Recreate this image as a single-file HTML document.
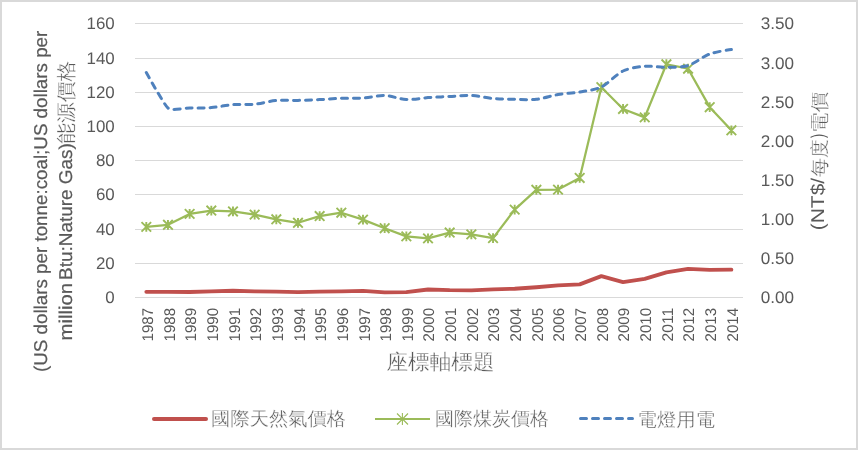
<!DOCTYPE html><html><head><meta charset="utf-8"><style>html,body{margin:0;padding:0;background:#fff;overflow:hidden;}svg{display:block;will-change:transform;}text{font-family:"Liberation Sans",sans-serif;fill:#595959;text-rendering:geometricPrecision;}</style></head><body>
<svg width="858" height="450" viewBox="0 0 858 450">
<rect x="0" y="0" width="858" height="450" fill="#d9d9d9"/>
<rect x="2" y="2" width="854" height="446" fill="#fff"/>
<rect x="135" y="23" width="608" height="1" fill="#d9d9d9"/>
<rect x="135" y="58" width="608" height="1" fill="#d9d9d9"/>
<rect x="135" y="92" width="608" height="1" fill="#d9d9d9"/>
<rect x="135" y="126" width="608" height="1" fill="#d9d9d9"/>
<rect x="135" y="160" width="608" height="1" fill="#d9d9d9"/>
<rect x="135" y="194" width="608" height="1" fill="#d9d9d9"/>
<rect x="135" y="229" width="608" height="1" fill="#d9d9d9"/>
<rect x="135" y="263" width="608" height="1" fill="#d9d9d9"/>
<rect x="135" y="297" width="608" height="1" fill="#d9d9d9"/>
<text x="114.7" y="28.7" font-size="16.9" text-anchor="end">160</text>
<text x="114.7" y="63.7" font-size="16.9" text-anchor="end">140</text>
<text x="114.7" y="97.7" font-size="16.9" text-anchor="end">120</text>
<text x="114.7" y="131.7" font-size="16.9" text-anchor="end">100</text>
<text x="114.7" y="165.7" font-size="16.9" text-anchor="end">80</text>
<text x="114.7" y="199.7" font-size="16.9" text-anchor="end">60</text>
<text x="114.7" y="234.7" font-size="16.9" text-anchor="end">40</text>
<text x="114.7" y="268.7" font-size="16.9" text-anchor="end">20</text>
<text x="114.7" y="302.7" font-size="16.9" text-anchor="end">0</text>
<text x="760.7" y="29.4" font-size="16.9" textLength="33.3" lengthAdjust="spacingAndGlyphs">3.50</text>
<text x="760.7" y="68.5" font-size="16.9" textLength="33.3" lengthAdjust="spacingAndGlyphs">3.00</text>
<text x="760.7" y="107.7" font-size="16.9" textLength="33.3" lengthAdjust="spacingAndGlyphs">2.50</text>
<text x="760.7" y="146.8" font-size="16.9" textLength="33.3" lengthAdjust="spacingAndGlyphs">2.00</text>
<text x="760.7" y="186.0" font-size="16.9" textLength="33.3" lengthAdjust="spacingAndGlyphs">1.50</text>
<text x="760.7" y="225.1" font-size="16.9" textLength="33.3" lengthAdjust="spacingAndGlyphs">1.00</text>
<text x="760.7" y="264.3" font-size="16.9" textLength="33.3" lengthAdjust="spacingAndGlyphs">0.50</text>
<text x="760.7" y="303.4" font-size="16.9" textLength="33.3" lengthAdjust="spacingAndGlyphs">0.00</text>
<text transform="translate(153.00,307.9) rotate(-90)" font-size="15.5" text-anchor="end" textLength="33.5" lengthAdjust="spacingAndGlyphs">1987</text>
<text transform="translate(174.65,307.9) rotate(-90)" font-size="15.5" text-anchor="end" textLength="33.5" lengthAdjust="spacingAndGlyphs">1988</text>
<text transform="translate(196.30,307.9) rotate(-90)" font-size="15.5" text-anchor="end" textLength="33.5" lengthAdjust="spacingAndGlyphs">1989</text>
<text transform="translate(217.95,307.9) rotate(-90)" font-size="15.5" text-anchor="end" textLength="33.5" lengthAdjust="spacingAndGlyphs">1990</text>
<text transform="translate(239.60,307.9) rotate(-90)" font-size="15.5" text-anchor="end" textLength="33.5" lengthAdjust="spacingAndGlyphs">1991</text>
<text transform="translate(261.25,307.9) rotate(-90)" font-size="15.5" text-anchor="end" textLength="33.5" lengthAdjust="spacingAndGlyphs">1992</text>
<text transform="translate(282.90,307.9) rotate(-90)" font-size="15.5" text-anchor="end" textLength="33.5" lengthAdjust="spacingAndGlyphs">1993</text>
<text transform="translate(304.55,307.9) rotate(-90)" font-size="15.5" text-anchor="end" textLength="33.5" lengthAdjust="spacingAndGlyphs">1994</text>
<text transform="translate(326.20,307.9) rotate(-90)" font-size="15.5" text-anchor="end" textLength="33.5" lengthAdjust="spacingAndGlyphs">1995</text>
<text transform="translate(347.85,307.9) rotate(-90)" font-size="15.5" text-anchor="end" textLength="33.5" lengthAdjust="spacingAndGlyphs">1996</text>
<text transform="translate(369.50,307.9) rotate(-90)" font-size="15.5" text-anchor="end" textLength="33.5" lengthAdjust="spacingAndGlyphs">1997</text>
<text transform="translate(391.15,307.9) rotate(-90)" font-size="15.5" text-anchor="end" textLength="33.5" lengthAdjust="spacingAndGlyphs">1998</text>
<text transform="translate(412.80,307.9) rotate(-90)" font-size="15.5" text-anchor="end" textLength="33.5" lengthAdjust="spacingAndGlyphs">1999</text>
<text transform="translate(434.45,307.9) rotate(-90)" font-size="15.5" text-anchor="end" textLength="33.5" lengthAdjust="spacingAndGlyphs">2000</text>
<text transform="translate(456.10,307.9) rotate(-90)" font-size="15.5" text-anchor="end" textLength="33.5" lengthAdjust="spacingAndGlyphs">2001</text>
<text transform="translate(477.75,307.9) rotate(-90)" font-size="15.5" text-anchor="end" textLength="33.5" lengthAdjust="spacingAndGlyphs">2002</text>
<text transform="translate(499.40,307.9) rotate(-90)" font-size="15.5" text-anchor="end" textLength="33.5" lengthAdjust="spacingAndGlyphs">2003</text>
<text transform="translate(521.05,307.9) rotate(-90)" font-size="15.5" text-anchor="end" textLength="33.5" lengthAdjust="spacingAndGlyphs">2004</text>
<text transform="translate(542.70,307.9) rotate(-90)" font-size="15.5" text-anchor="end" textLength="33.5" lengthAdjust="spacingAndGlyphs">2005</text>
<text transform="translate(564.35,307.9) rotate(-90)" font-size="15.5" text-anchor="end" textLength="33.5" lengthAdjust="spacingAndGlyphs">2006</text>
<text transform="translate(586.00,307.9) rotate(-90)" font-size="15.5" text-anchor="end" textLength="33.5" lengthAdjust="spacingAndGlyphs">2007</text>
<text transform="translate(607.65,307.9) rotate(-90)" font-size="15.5" text-anchor="end" textLength="33.5" lengthAdjust="spacingAndGlyphs">2008</text>
<text transform="translate(629.30,307.9) rotate(-90)" font-size="15.5" text-anchor="end" textLength="33.5" lengthAdjust="spacingAndGlyphs">2009</text>
<text transform="translate(650.95,307.9) rotate(-90)" font-size="15.5" text-anchor="end" textLength="33.5" lengthAdjust="spacingAndGlyphs">2010</text>
<text transform="translate(672.60,307.9) rotate(-90)" font-size="15.5" text-anchor="end" textLength="33.5" lengthAdjust="spacingAndGlyphs">2011</text>
<text transform="translate(694.25,307.9) rotate(-90)" font-size="15.5" text-anchor="end" textLength="33.5" lengthAdjust="spacingAndGlyphs">2012</text>
<text transform="translate(715.90,307.9) rotate(-90)" font-size="15.5" text-anchor="end" textLength="33.5" lengthAdjust="spacingAndGlyphs">2013</text>
<text transform="translate(737.55,307.9) rotate(-90)" font-size="15.5" text-anchor="end" textLength="33.5" lengthAdjust="spacingAndGlyphs">2014</text>
<text transform="translate(47.00,372.00) rotate(-90)" font-size="18.5" fill="#595959" stroke="#595959" stroke-width="0.2" textLength="341.30" lengthAdjust="spacingAndGlyphs">(US dollars per tonne:coal;US dollars per</text>
<text transform="translate(71.60,340.50) rotate(-90)" font-size="18.5" fill="#595959" stroke="#595959" stroke-width="0.2" textLength="57.60" lengthAdjust="spacingAndGlyphs">million</text>
<text transform="translate(72.00,280.00) rotate(-90)" font-size="18.5" fill="#595959" stroke="#595959" stroke-width="0.2" textLength="136.90" lengthAdjust="spacingAndGlyphs">Btu:Nature Gas)</text>
<text transform="translate(73.00,143.70) rotate(-90)" font-size="20" fill="#595959" stroke="#fff" stroke-width="0.35" textLength="83.10" lengthAdjust="spacingAndGlyphs">能源價格</text>
<text transform="translate(823.84,230.30) rotate(-90)" font-size="18.5" fill="#595959"  textLength="52.50" lengthAdjust="spacingAndGlyphs">(NT$/</text>
<text transform="translate(825.52,176.70) rotate(-90)" font-size="19" fill="#595959" stroke="#fff" stroke-width="0.35" textLength="37.50" lengthAdjust="spacingAndGlyphs">每度</text>
<text transform="translate(823.84,138.00) rotate(-90)" font-size="18.5" fill="#595959"  textLength="4.20" lengthAdjust="spacingAndGlyphs">)</text>
<text transform="translate(825.52,132.70) rotate(-90)" font-size="19" fill="#595959" stroke="#fff" stroke-width="0.35" textLength="40.70" lengthAdjust="spacingAndGlyphs">電價</text>
<text x="386.50" y="368.70" font-size="21" fill="#595959" stroke="#fff" stroke-width="0.35" textLength="108.10" lengthAdjust="spacingAndGlyphs">座標軸標題</text>
<text x="211.10" y="424.92" font-size="19" fill="#595959" stroke="#fff" stroke-width="0.35" textLength="135.00" lengthAdjust="spacingAndGlyphs">國際天然氣價格</text>
<text x="434.90" y="424.92" font-size="19" fill="#595959" stroke="#fff" stroke-width="0.35" textLength="114.00" lengthAdjust="spacingAndGlyphs">國際煤炭價格</text>
<text x="637.60" y="425.80" font-size="19" fill="#595959" stroke="#fff" stroke-width="0.35" textLength="77.40" lengthAdjust="spacingAndGlyphs">電燈用電</text>
<path d="M146.30,291.86 L167.97,291.88 L189.64,291.98 L211.31,291.36 L232.98,290.76 L254.65,291.40 L276.32,291.57 L297.99,292.15 L319.66,291.67 L341.33,291.33 L363.00,290.90 L384.67,292.37 L406.34,292.22 L428.01,289.51 L449.68,290.15 L471.35,290.28 L493.02,289.43 L514.69,288.73 L536.36,287.24 L558.03,285.37 L579.70,284.36 L601.37,276.10 L623.04,282.08 L644.71,278.91 L666.38,272.37 L688.05,268.91 L709.72,269.90 L731.39,269.62" fill="none" stroke="#c0504d" stroke-width="3.8" stroke-linejoin="round" stroke-linecap="round"/>
<path d="M146.30,226.88 L167.97,224.84 L189.64,213.90 L211.31,210.56 L232.98,211.43 L254.65,214.60 L276.32,219.29 L297.99,222.80 L319.66,216.09 L341.33,212.73 L363.00,219.60 L384.67,228.20 L406.34,236.37 L428.01,238.36 L449.68,232.57 L471.35,234.39 L493.02,238.09 L514.69,209.65 L536.36,189.83 L558.03,189.60 L579.70,177.92 L601.37,87.21 L623.04,108.97 L644.71,117.40 L666.38,64.26 L688.05,68.71 L709.72,107.17 L731.39,130.31" fill="none" stroke="#9bbb59" stroke-width="2.25" stroke-linejoin="round" stroke-linecap="round"/>
<path d="M146.30,221.98 V231.78 M141.50,222.08 L151.10,231.68 M151.10,222.08 L141.50,231.68 M167.97,219.94 V229.74 M163.17,220.04 L172.77,229.64 M172.77,220.04 L163.17,229.64 M189.64,209.00 V218.80 M184.84,209.10 L194.44,218.70 M194.44,209.10 L184.84,218.70 M211.31,205.66 V215.46 M206.51,205.76 L216.11,215.36 M216.11,205.76 L206.51,215.36 M232.98,206.53 V216.33 M228.18,206.63 L237.78,216.23 M237.78,206.63 L228.18,216.23 M254.65,209.70 V219.50 M249.85,209.80 L259.45,219.40 M259.45,209.80 L249.85,219.40 M276.32,214.39 V224.19 M271.52,214.49 L281.12,224.09 M281.12,214.49 L271.52,224.09 M297.99,217.90 V227.70 M293.19,218.00 L302.79,227.60 M302.79,218.00 L293.19,227.60 M319.66,211.19 V220.99 M314.86,211.29 L324.46,220.89 M324.46,211.29 L314.86,220.89 M341.33,207.83 V217.63 M336.53,207.93 L346.13,217.53 M346.13,207.93 L336.53,217.53 M363.00,214.70 V224.50 M358.20,214.80 L367.80,224.40 M367.80,214.80 L358.20,224.40 M384.67,223.30 V233.10 M379.87,223.40 L389.47,233.00 M389.47,223.40 L379.87,233.00 M406.34,231.47 V241.27 M401.54,231.57 L411.14,241.17 M411.14,231.57 L401.54,241.17 M428.01,233.46 V243.26 M423.21,233.56 L432.81,243.16 M432.81,233.56 L423.21,243.16 M449.68,227.67 V237.47 M444.88,227.77 L454.48,237.37 M454.48,227.77 L444.88,237.37 M471.35,229.49 V239.29 M466.55,229.59 L476.15,239.19 M476.15,229.59 L466.55,239.19 M493.02,233.19 V242.99 M488.22,233.29 L497.82,242.89 M497.82,233.29 L488.22,242.89 M514.69,204.75 V214.55 M509.89,204.85 L519.49,214.45 M519.49,204.85 L509.89,214.45 M536.36,184.93 V194.73 M531.56,185.03 L541.16,194.63 M541.16,185.03 L531.56,194.63 M558.03,184.70 V194.50 M553.23,184.80 L562.83,194.40 M562.83,184.80 L553.23,194.40 M579.70,173.02 V182.82 M574.90,173.12 L584.50,182.72 M584.50,173.12 L574.90,182.72 M601.37,82.31 V92.11 M596.57,82.41 L606.17,92.01 M606.17,82.41 L596.57,92.01 M623.04,104.07 V113.87 M618.24,104.17 L627.84,113.77 M627.84,104.17 L618.24,113.77 M644.71,112.50 V122.30 M639.91,112.60 L649.51,122.20 M649.51,112.60 L639.91,122.20 M666.38,59.36 V69.16 M661.58,59.46 L671.18,69.06 M671.18,59.46 L661.58,69.06 M688.05,63.81 V73.61 M683.25,63.91 L692.85,73.51 M692.85,63.91 L683.25,73.51 M709.72,102.27 V112.07 M704.92,102.37 L714.52,111.97 M714.52,102.37 L704.92,111.97 M731.39,125.41 V135.21 M726.59,125.51 L736.19,135.11 M736.19,125.51 L726.59,135.11" fill="none" stroke="#9bbb59" stroke-width="1.9"/>
<path d="M146.30,72.50 C146.30,72.50 164.21,104.92 167.97,108.00 C171.73,111.08 182.42,108.07 189.64,108.00 C196.86,107.93 204.15,108.16 211.31,107.60 C218.47,107.04 225.82,105.16 232.98,104.60 C240.14,104.04 247.53,104.87 254.65,104.20 C261.77,103.53 269.20,101.12 276.32,100.50 C283.44,99.88 290.77,100.55 297.99,100.40 C305.21,100.25 312.44,99.95 319.66,99.60 C326.88,99.25 334.12,98.57 341.33,98.30 C348.54,98.03 355.82,98.46 363.00,98.00 C370.18,97.54 377.52,95.25 384.67,95.50 C391.82,95.75 399.21,99.15 406.34,99.50 C413.47,99.85 420.81,98.10 428.01,97.60 C435.21,97.10 442.46,96.85 449.68,96.50 C456.90,96.15 464.19,95.17 471.35,95.50 C478.51,95.83 485.86,97.87 493.02,98.50 C500.18,99.13 507.47,99.17 514.69,99.30 C521.91,99.43 529.31,100.08 536.36,99.30 C543.41,98.52 550.93,95.70 558.03,94.50 C565.13,93.30 572.61,93.23 579.70,92.00 C586.79,90.77 595.41,89.89 601.37,87.00 C607.33,84.11 617.09,73.84 623.04,71.00 C628.99,68.16 637.64,66.90 644.71,66.30 C651.78,65.70 659.17,67.43 666.38,67.30 C673.59,67.17 681.65,67.46 688.05,65.50 C694.45,63.54 703.20,56.41 709.72,54.00 C716.24,51.59 731.39,49.50 731.39,49.50" fill="none" stroke="#4f81bd" stroke-width="3" stroke-dasharray="6 6" stroke-linecap="round" stroke-linejoin="round"/>
<line x1="154" y1="419" x2="206" y2="419" stroke="#c0504d" stroke-width="4" stroke-linecap="round"/>
<line x1="375" y1="419" x2="430" y2="419" stroke="#9bbb59" stroke-width="2"/>
<path d="M402.4,413 V425 M397,413.5 L408,424.5 M408,413.5 L397,424.5" stroke="#9bbb59" stroke-width="1.1" fill="none"/>
<line x1="580.5" y1="418.5" x2="632.5" y2="418.5" stroke="#4f81bd" stroke-width="3" stroke-dasharray="6 6" stroke-linecap="round"/>
</svg></body></html>
